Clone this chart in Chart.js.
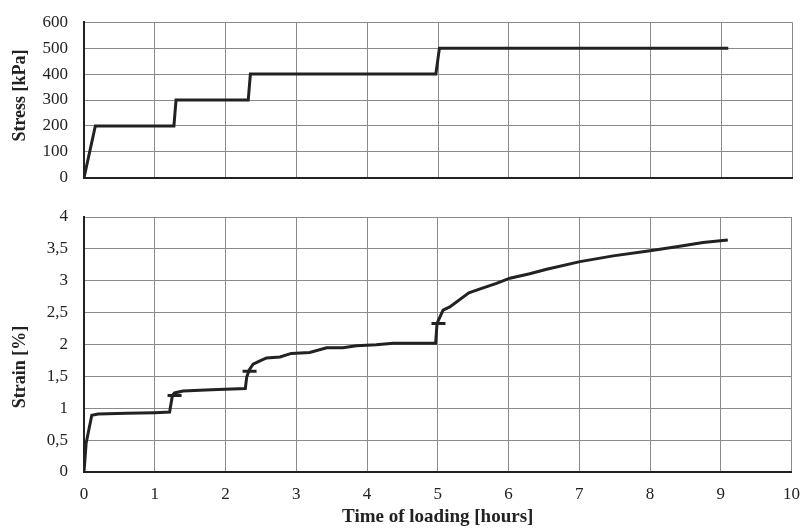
<!DOCTYPE html>
<html>
<head>
<meta charset="utf-8">
<script src="https://cdn.jsdelivr.net/npm/chart.js@4.4.1/dist/chart.umd.min.js"></script>
<style>
  html, body { margin: 0; padding: 0; background: #fff; overflow: hidden; }
  #wrap { position: relative; width: 804px; height: 528px; overflow: hidden; }
  .box { position: absolute; left: 0; }
  /* boxes are offset so the plot areas line up with the two stacked panels */
  #topBox { top: -4px; width: 804px; height: 208px; }
  #bottomBox { top: 190px; width: 812px; height: 338px; }
</style>
</head>
<body>
<div id="wrap">
  <div class="box" id="topBox"><canvas id="stressChart"></canvas></div>
  <div class="box" id="bottomBox"><canvas id="strainChart"></canvas></div>
</div>
<script>
// Stress steps (time in hours, stress in kPa)
const stressTime  = [0, 0.16, 1.27, 1.30, 2.32, 2.35, 4.97, 5.02, 9.1];
const stressValue = [0, 200, 200, 300, 300, 400, 400, 500, 500];

// Strain curve (time in hours, strain in %)
const strainTime  = [0, 0.03, 0.11, 0.2, 0.6, 1.0, 1.21, 1.25, 1.28, 1.40, 1.8, 2.28, 2.30, 2.335, 2.39, 2.48, 2.58,
                     2.77, 2.93, 3.19, 3.43, 3.66, 3.85, 4.13, 4.37, 4.97, 4.99, 5.075, 5.17, 5.44, 5.59, 5.83,
                     6.02, 6.30, 6.54, 7.01, 7.48, 8.0, 8.42, 8.75, 9.10];
const strainValue = [0, 0.45, 0.89, 0.91, 0.92, 0.93, 0.94, 1.2, 1.24, 1.27, 1.29, 1.31, 1.49, 1.6, 1.69, 1.74, 1.79,
                     1.805, 1.86, 1.875, 1.95, 1.95, 1.98, 1.995, 2.02, 2.02, 2.33, 2.54, 2.59, 2.81, 2.87, 2.96,
                     3.04, 3.11, 3.18, 3.30, 3.39, 3.47, 3.54, 3.60, 3.64];

// Short horizontal marks on the strain curve
const markTime  = [1.28, 2.34, 5.01];
const markValue = [1.2, 1.58, 2.33];

const xTicks = [0, 1, 2, 3, 4, 5, 6, 7, 8, 9, 10];

const toPoints = (xs, ys) => xs.map((x, i) => ({ x, y: ys[i] }));

const FONT = '"Liberation Serif", "Times New Roman", serif';
const INK = '#222';
const GRID = '#8a8a8a';

function xScale(showLabels) {
    return {
        type: 'linear',
        min: 0,
        max: 10,
        afterBuildTicks: s => { s.ticks = xTicks.map(v => ({ value: v })); },
        grid: { color: GRID, lineWidth: 1, drawTicks: false },
        border: { color: INK, width: 2 },
        ticks: {
            display: showLabels,
            color: INK,
            padding: 12,
            font: { family: FONT, size: 17 },
            callback: v => String(v)
        },
        title: {
            display: showLabels,
            text: 'Time of loading [hours]',
            color: INK,
            padding: { top: 1, bottom: 0 },
            font: { family: FONT, size: 19, weight: 'bold' }
        },
        afterFit: s => { s.height = showLabels ? 56 : 0; }
    };
}

function yScale(max, step, label, fmt) {
    return {
        min: 0,
        max: max,
        ticks: {
            stepSize: step,
            color: INK,
            padding: 16,
            font: { family: FONT, size: 17 },
            callback: fmt
        },
        grid: { color: GRID, lineWidth: 1, drawTicks: false },
        border: { color: INK, width: 2 },
        title: {
            display: true,
            text: label,
            color: INK,
            padding: { top: 10, bottom: 0 },
            font: { family: FONT, size: 18, weight: 'bold' }
        },
        afterFit: s => { s.width = 84; }
    };
}

new Chart(document.getElementById('stressChart'), {
    type: 'scatter',
    data: {
        datasets: [{
            data: toPoints(stressTime, stressValue),
            showLine: true,
            borderColor: INK,
            borderWidth: 3,
            pointRadius: 0
        }]
    },
    options: {
        responsive: true,
        maintainAspectRatio: false,
        animation: false,
        layout: { padding: { top: 0, right: 12, left: 0, bottom: 0 } },
        scales: {
            x: xScale(false),
            y: yScale(600, 100, '  Stress [kPa]', v => String(v))
        },
        plugins: { legend: { display: false }, tooltip: { enabled: false } }
    }
});

new Chart(document.getElementById('strainChart'), {
    type: 'scatter',
    data: {
        datasets: [{
            data: toPoints(strainTime, strainValue),
            showLine: true,
            borderColor: INK,
            borderWidth: 3,
            pointRadius: 0
        }, {
            data: toPoints(markTime, markValue),
            showLine: false,
            pointStyle: 'line',
            pointRadius: 7,
            pointBorderWidth: 3,
            pointBorderColor: INK
        }]
    },
    options: {
        responsive: true,
        maintainAspectRatio: false,
        animation: false,
        layout: { padding: { top: 27, right: 12, left: 0, bottom: 0 } },
        scales: {
            x: xScale(true),
            y: yScale(4, 0.5, 'Strain [%]          ', v => String(v).replace('.', ','))
        },
        plugins: { legend: { display: false }, tooltip: { enabled: false } }
    }
});
</script>
</body>
</html>
